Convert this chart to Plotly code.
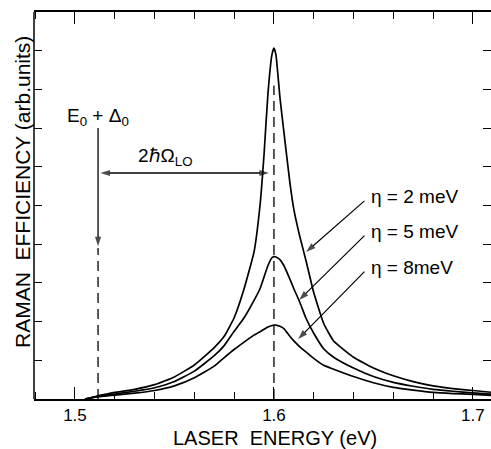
import plotly.graph_objects as go

# ---- data ----
energy = [1.505, 1.508, 1.512, 1.516, 1.52, 1.53, 1.54, 1.55, 1.56, 1.57, 1.575, 1.58,
          1.585, 1.59, 1.593, 1.595, 1.597, 1.599, 1.6, 1.601, 1.603, 1.605, 1.608,
          1.61, 1.613, 1.616, 1.62, 1.625, 1.63, 1.64, 1.65, 1.66, 1.67, 1.68, 1.69,
          1.70, 1.71]
eff_eta2 = [0.0, 0.03, 0.09, 0.13, 0.17, 0.25, 0.37, 0.57, 0.88, 1.33, 1.62, 2.1,
            2.85, 3.8, 5.0, 6.3, 7.9, 8.9, 9.07, 8.9, 7.8, 6.9, 5.6,
            4.9, 4.2, 3.6, 2.75, 1.95, 1.5, 1.08, 0.8, 0.6, 0.45, 0.34, 0.27,
            0.22, 0.17]
eff_eta5 = [0.0, 0.03, 0.07, 0.10, 0.13, 0.20, 0.29, 0.45, 0.72, 1.12, 1.38, 1.75,
            2.1, 2.55, 2.85, 3.15, 3.45, 3.65, 3.68, 3.67, 3.6, 3.45, 3.1,
            2.85, 2.5, 2.1, 1.7, 1.3, 1.08, 0.8, 0.58, 0.43, 0.33, 0.25, 0.2,
            0.16, 0.12]
eff_eta8 = [0.0, 0.03, 0.06, 0.08, 0.10, 0.15, 0.22, 0.34, 0.55, 0.85, 1.07, 1.28,
            1.47, 1.65, 1.74, 1.8, 1.86, 1.9, 1.91, 1.91, 1.88, 1.82, 1.62,
            1.5, 1.35, 1.22, 1.05, 0.87, 0.77, 0.58, 0.42, 0.3, 0.23, 0.17, 0.14,
            0.12, 0.09]

x_ticks = [1.5, 1.6, 1.7]
x_tick_labels = ["1.5", "1.6", "1.7"]
eta_labels = ["η = 2 meV", "η = 5 meV", "η = 8meV"]
eta_label_y = [5.22, 4.32, 3.39]
eta_tip_x = [1.6162, 1.6127, 1.6122]
eta_tip_y = [3.8, 2.56, 1.55]
e0_energy = 1.5116
resonance_energy = 1.6

FONT = "Liberation Sans"

fig = go.Figure()
for ys in (eff_eta2, eff_eta5, eff_eta8):
    fig.add_trace(go.Scatter(x=energy, y=ys, mode="lines",
                             line=dict(color="black", width=1.7, shape="spline", smoothing=0.4),
                             showlegend=False, hoverinfo="skip"))


def add_arrow(x0, y0, x1, y1, width=1.3):
    """Line from (x0, y0) to (x1, y1) with an arrowhead at (x1, y1)."""
    fig.add_trace(go.Scatter(
        x=[x0, x1], y=[y0, y1], mode="lines+markers",
        line=dict(color="black", width=width),
        marker=dict(symbol="arrow", size=[0, 10], angleref="previous", color="black",
                    line=dict(width=0)),
        showlegend=False, hoverinfo="skip"))


# arrows: E0+Delta0 marker, 2hbar Omega_LO span (double headed), eta labels
add_arrow(e0_energy, 7.0, e0_energy, 3.95)
mid = (e0_energy + resonance_energy) / 2
add_arrow(mid, 5.84, 1.5128, 5.84)
add_arrow(mid, 5.84, 1.5975, 5.84)
for ly, tx, ty in zip(eta_label_y, eta_tip_x, eta_tip_y):
    add_arrow(1.6455, ly - 0.1, tx, ty, width=1.2)

# left axis line (right side shows only ticks, as in the reference)
fig.add_shape(type="line", xref="paper", yref="paper", x0=0, x1=0, y0=0, y1=1,
              line=dict(color="black", width=1.5))
# dashed vertical lines
fig.add_shape(type="line", x0=e0_energy, x1=e0_energy, y0=0, y1=3.9,
              line=dict(color="black", width=1.3, dash="10px,6px"))
fig.add_shape(type="line", x0=resonance_energy, x1=resonance_energy, y0=0, y1=8.1,
              line=dict(color="black", width=1.3, dash="10px,6px"))

ann = []
ann.append(dict(x=e0_energy, y=7.29, text="E<sub>0</sub> + Δ<sub>0</sub>", showarrow=False,
                font=dict(size=19, family=FONT, color="black"), xanchor="center", yanchor="middle"))
ann.append(dict(x=1.5457, y=6.25, text="2ℏΩ<sub>LO</sub>", showarrow=False,
                font=dict(size=19, family=FONT, color="black"), xanchor="center", yanchor="middle"))
for lab, ly in zip(eta_labels, eta_label_y):
    ann.append(dict(x=1.6477, y=ly, text=lab, showarrow=False, xanchor="left", yanchor="middle",
                    font=dict(size=19, family=FONT, color="black")))
# axis titles
ann.append(dict(xref="paper", yref="paper", x=(22 - 34) / 457, y=(399 - 192) / 387,
                text="RAMAN  EFFICIENCY (arb.units)", textangle=-90, showarrow=False,
                font=dict(size=21, family=FONT, color="black"), xanchor="center", yanchor="middle"))
ann.append(dict(xref="paper", yref="paper", x=(275 - 34) / 457, y=(399 - 438) / 387,
                text="LASER  ENERGY (eV)", showarrow=False,
                font=dict(size=20, family=FONT, color="black"), xanchor="center", yanchor="middle"))

fig.update_layout(
    width=491, height=449,
    margin=dict(l=34, r=0, t=12, b=50),
    paper_bgcolor="white", plot_bgcolor="white",
    annotations=ann,
    font=dict(family=FONT, color="black"),
)
fig.update_xaxes(range=[1.4794, 1.7091], tickvals=x_ticks, ticktext=x_tick_labels,
                 ticks="inside", ticklen=12, tickwidth=1.3, tickcolor="black",
                 minor=dict(dtick=0.02, tick0=1.5, ticks="inside", ticklen=7, tickwidth=1.2, tickcolor="black"),
                 showline=True, linecolor="black", linewidth=1.5, mirror="ticks",
                 showgrid=False, zeroline=False, tickfont=dict(size=17, family=FONT, color="black"))
fig.update_yaxes(range=[0, 10], dtick=1, tick0=0, ticks="inside", ticklen=8, tickwidth=1.3,
                 tickcolor="black", showticklabels=False,
                 showline=False, mirror="ticks",
                 showgrid=False, zeroline=False)

fig.write_html("out.html")
